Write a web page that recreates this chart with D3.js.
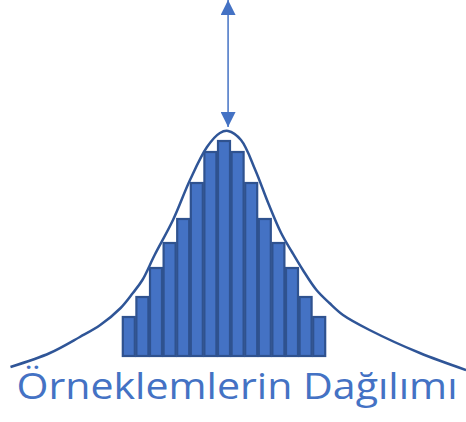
<!DOCTYPE html>
<html>
<head>
<meta charset="utf-8">
<script src="https://cdn.jsdelivr.net/npm/d3@7"></script>
<style>
  html, body { margin: 0; padding: 0; background: #fff; }
  #chart { width: 466px; height: 422px; }
</style>
</head>
<body>
<div id="chart"></div>
<script>
// bar positions (sample mean bins, centre = 0) and counts
const bins = [-7, -6, -5, -4, -3, -2, -1, 0, 1, 2, 3, 4, 5, 6, 7];
const counts = [3.9, 5.9, 8.8, 11.3, 13.7, 17.3, 20.4, 21.5, 20.4, 17.3, 13.7, 11.3, 8.8, 5.9, 3.9];

// density curve
const curveX = [-15.7, -12.8, -10.6, -9.1, -7.6, -6.7, -6.0, -5.1, -3.75, -2.5, -1.25, -0.3, 0.3,
  1.25, 2.3, 3.25, 4.2, 5.0, 5.8, 6.8, 7.75, 8.75, 10.7, 14.4, 17.8];
const curveY = [-1.1, 0.3, 1.9, 3.1, 4.8, 6.3, 7.6, 10.1, 13.6, 17.6, 20.9, 22.3, 22.5,
  21.6, 18.6, 15.3, 12.3, 10.4, 8.6, 6.6, 5.3, 4.1, 2.6, 0.3, -1.4];

// double arrow above the peak
const arrowX = 0.3;
const arrowY = [35.6, 22.9];

const title = "Örneklemlerin Dağılımı";

const theme = {
  bar: "#4472C4",
  barEdge: "#2F528F",
  curve: "#2F5597",
  arrow: "#4472C4",
  text: "#4472C4",
};

const container = d3.select("#chart");
const width = 466;
const height = 422;

const svg = container.append("svg")
  .attr("width", width)
  .attr("height", height);

const x = d3.scaleLinear().domain([-7.5, 7.5]).range([122, 326]);
const y = d3.scaleLinear().domain([0, 22]).range([356, 136]);

const unit = x(1) - x(0);
const gap = 1.6;

svg.append("g")
  .selectAll("rect")
  .data(bins.map((b, i) => ({ b, v: counts[i] })))
  .enter()
  .append("rect")
  .attr("x", d => x(d.b - 0.5) + gap / 2)
  .attr("width", unit - gap)
  .attr("y", d => y(d.v))
  .attr("height", d => y(0) - y(d.v))
  .attr("fill", theme.bar)
  .attr("stroke", theme.barEdge)
  .attr("stroke-width", 2.2);

const line = d3.line()
  .x(d => x(d[0]))
  .y(d => y(d[1]))
  .curve(d3.curveCatmullRom.alpha(0.5));

svg.append("path")
  .datum(curveX.map((v, i) => [v, curveY[i]]))
  .attr("d", line)
  .attr("fill", "none")
  .attr("stroke", theme.curve)
  .attr("stroke-width", 2.5);

// arrow
const defs = svg.append("defs");
defs.append("marker")
  .attr("id", "head")
  .attr("viewBox", "0 0 10 10")
  .attr("refX", 10)
  .attr("refY", 5)
  .attr("markerWidth", 10)
  .attr("markerHeight", 10)
  .attr("markerUnits", "strokeWidth")
  .attr("orient", "auto-start-reverse")
  .append("path")
  .attr("d", "M0,0 L10,5 L0,10 Z")
  .attr("fill", theme.arrow);

svg.append("line")
  .attr("x1", x(arrowX))
  .attr("x2", x(arrowX))
  .attr("y1", y(arrowY[0]))
  .attr("y2", y(arrowY[1]))
  .attr("stroke", theme.arrow)
  .attr("stroke-width", 1.5)
  .attr("marker-start", "url(#head)")
  .attr("marker-end", "url(#head)");

svg.append("text")
  .attr("x", 237)
  .attr("y", 399)
  .attr("text-anchor", "middle")
  .attr("font-family", "'Open Sans', sans-serif")
  .attr("font-size", 36)
  .attr("fill", theme.text)
  .attr("textLength", 441)
  .attr("lengthAdjust", "spacingAndGlyphs")
  .text(title);
</script>
</body>
</html>
